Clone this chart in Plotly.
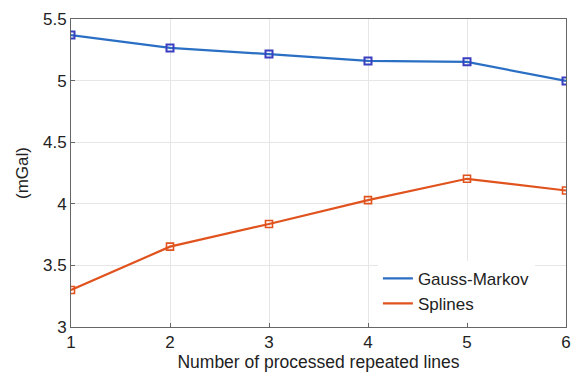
import plotly.graph_objects as go

x_vals = [1, 2, 3, 4, 5, 6]
gauss_markov = [5.37, 5.265, 5.215, 5.16, 5.152, 4.997]
splines = [3.30, 3.652, 3.836, 4.03, 4.203, 4.108]
x_ticks = [1, 2, 3, 4, 5, 6]
y_ticks = [3, 3.5, 4, 4.5, 5, 5.5]
y_tick_text = ["3", "3.5", "4", "4.5", "5", "5.5"]

blue = "#2a6fc4"
orange = "#e0531e"

fig = go.Figure()
fig.add_trace(go.Scatter(
    x=x_vals, y=gauss_markov, name="Gauss-Markov", mode="lines+markers",
    line=dict(color=blue, width=2.2), showlegend=False,
    marker=dict(symbol="square-open", size=7, color="#3a3fc0", line=dict(width=2)),
))
fig.add_trace(go.Scatter(
    x=x_vals, y=splines, name="Splines", mode="lines+markers",
    line=dict(color=orange, width=2.2), showlegend=False,
    marker=dict(symbol="square-open", size=7, color=orange, line=dict(width=1.6)),
))
# legend entries (lines only, as in the reference)
fig.add_trace(go.Scatter(x=[None], y=[None], name="Gauss-Markov", mode="lines",
                         line=dict(color=blue, width=2.2)))
fig.add_trace(go.Scatter(x=[None], y=[None], name="Splines", mode="lines",
                         line=dict(color=orange, width=2.2)))

axis_common = dict(
    showline=True, linecolor="#666666", linewidth=1, mirror=True,
    showgrid=True, gridcolor="#e6e6e6", gridwidth=1,
    ticks="inside", ticklen=4, tickcolor="#666666",
    tickfont=dict(size=17, color="#222222"), zeroline=False,
)

fig.update_layout(
    width=577, height=373,
    margin=dict(l=71, r=6, t=19, b=46),
    paper_bgcolor="white", plot_bgcolor="white",
    font=dict(family="Liberation Sans, Arial, sans-serif", color="#222222"),
    xaxis=dict(range=[1, 6], tickvals=x_ticks,
               title=dict(text="Number of processed repeated lines", font=dict(size=17.5), standoff=0),
               **axis_common),
    yaxis=dict(range=[3, 5.5], tickvals=y_ticks, ticktext=y_tick_text,
               title=dict(text="(mGal)", font=dict(size=17), standoff=10),
               **axis_common),
    legend=dict(x=0.62, y=0.215, xanchor="left", yanchor="top",
                bgcolor="rgba(255,255,255,1)", borderwidth=0,
                font=dict(size=17, color="#222222"), tracegroupgap=0),
    showlegend=True,
)
fig.write_html("out.html")
